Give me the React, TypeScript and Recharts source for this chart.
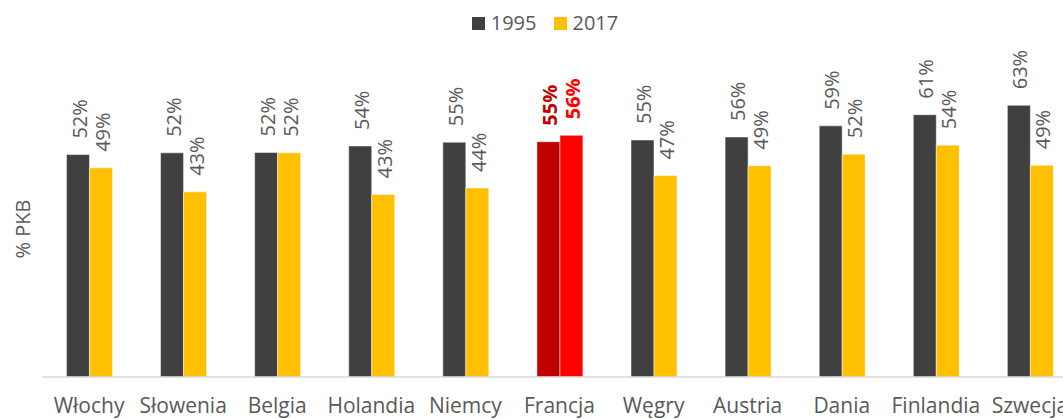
import { Bar, BarChart, Cell, LabelList, Legend, XAxis, YAxis } from "recharts";

const categories = [
  "Włochy",
  "Słowenia",
  "Belgia",
  "Holandia",
  "Niemcy",
  "Francja",
  "Węgry",
  "Austria",
  "Dania",
  "Finlandia",
  "Szwecja",
];
const values1995 = [51.9, 52.3, 52.4, 53.9, 54.8, 54.9, 55.3, 56.0, 58.6, 61.2, 63.4];
const values2017 = [48.8, 43.2, 52.3, 42.6, 44.1, 56.4, 47.0, 49.3, 52.0, 54.1, 49.4];
const highlight = "Francja";

const FONT = "'Open Sans', sans-serif";
const TEXT = "#595959";

const COLORS = {
  y1995: "#404040",
  y2017: "#ffc000",
  hi1995: "#c00000",
  hi2017: "#ff0000",
};

const data = categories.map((name, i) => ({
  name,
  y1995: values1995[i],
  y2017: values2017[i],
}));

function makeLabel(series: "y1995" | "y2017") {
  return function BarLabel(props: any) {
    const { x, y, width, value, index } = props;
    const isHi = categories[index] === highlight;
    const color = isHi ? (series === "y1995" ? COLORS.hi1995 : COLORS.hi2017) : TEXT;
    const cx = Number(x) + Number(width) / 2;
    const ty = Number(y) - 16;
    return (
      <text
        x={0}
        y={0}
        dy={8.6}
        transform={`translate(${cx}, ${ty}) rotate(-90)`}
        textAnchor="start"
        fill={color}
        fontSize={20}
        fontWeight={isHi ? 700 : 400}
        fontFamily={FONT}
      >
        {`${Math.round(Number(value))}%`}
      </text>
    );
  };
}

function CategoryTick(props: any) {
  const { x, y, payload } = props;
  return (
    <text x={x} y={y} dy="0.71em" textAnchor="middle" fill={TEXT} fontSize={21} fontFamily={FONT}>
      {payload.value}
    </text>
  );
}

function LegendContent() {
  const items = [
    { label: "1995", color: COLORS.y1995 },
    { label: "2017", color: COLORS.y2017 },
  ];
  return (
    <div
      style={{
        height: 77,
        display: "flex",
        justifyContent: "center",
        alignItems: "flex-start",
        paddingTop: 10,
        boxSizing: "border-box",
        fontFamily: FONT,
        fontSize: 20,
        color: TEXT,
        gap: 17,
      }}
    >
      {items.map((item) => (
        <span key={item.label} style={{ display: "flex", alignItems: "center", gap: 6, lineHeight: "26px" }}>
          <span style={{ width: 13, height: 13, background: item.color, display: "inline-block" }} />
          {item.label}
        </span>
      ))}
    </div>
  );
}

export default function App() {
  return (
    <div
      style={{
        position: "fixed",
        left: 0,
        top: 0,
        width: 1063,
        height: 419,
        overflow: "hidden",
        background: "#fff",
      }}
    >
      <BarChart
        width={1090}
        height={419}
        data={data}
        margin={{ top: 0, right: 13, left: 0, bottom: 0 }}
        barCategoryGap="26%"
        barGap={0}
      >
        <Legend verticalAlign="top" content={<LegendContent />} wrapperStyle={{ left: 0, width: 1090 }} />
        <XAxis
          dataKey="name"
          height={42}
          interval={0}
          tickLine={false}
          tickSize={0}
          tickMargin={21}
          axisLine={{ stroke: "#d9d9d9", strokeWidth: 1.5 }}
          tick={<CategoryTick />}
        />
        <YAxis
          width={42}
          domain={[0, 70]}
          tick={false}
          axisLine={false}
          tickLine={false}
          label={{
            content: (props: any) => {
              const vb = props.viewBox || {};
              const cx = 22;
              const cy = (vb.y ?? 77) + (vb.height ?? 300) / 2 + 2;
              return (
                <text
                  x={0}
                  y={0}
                  transform={`translate(${cx}, ${cy}) rotate(-90)`}
                  textAnchor="middle"
                  dominantBaseline="central"
                  fill={TEXT}
                  fontSize={20}
                  fontFamily={FONT}
                >
                  % PKB
                </text>
              );
            },
          }}
        />
        <Bar dataKey="y1995" fill={COLORS.y1995} stroke="#ffffff" strokeWidth={0.5} isAnimationActive={false}>
          {data.map((d) => (
            <Cell key={d.name} fill={d.name === highlight ? COLORS.hi1995 : COLORS.y1995} />
          ))}
          <LabelList dataKey="y1995" content={makeLabel("y1995")} />
        </Bar>
        <Bar dataKey="y2017" fill={COLORS.y2017} stroke="#ffffff" strokeWidth={0.5} isAnimationActive={false}>
          {data.map((d) => (
            <Cell key={d.name} fill={d.name === highlight ? COLORS.hi2017 : COLORS.y2017} />
          ))}
          <LabelList dataKey="y2017" content={makeLabel("y2017")} />
        </Bar>
      </BarChart>
    </div>
  );
}
